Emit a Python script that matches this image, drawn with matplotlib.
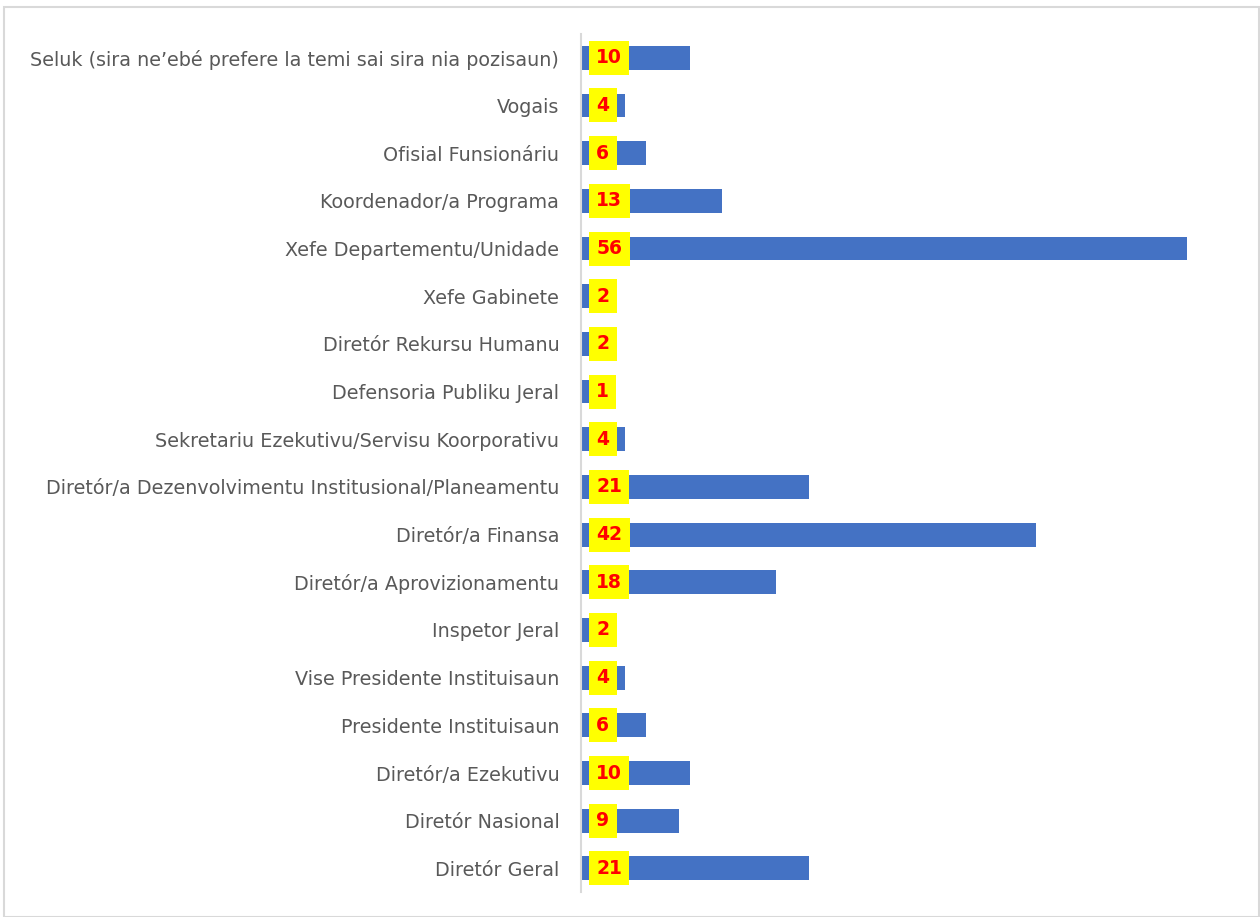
import matplotlib
matplotlib.use("Agg")
from matplotlib import pyplot as plt
from matplotlib.patches import Rectangle

categories = [
    "Diretór Geral",
    "Diretór Nasional",
    "Diretór/a Ezekutivu",
    "Presidente Instituisaun",
    "Vise Presidente Instituisaun",
    "Inspetor Jeral",
    "Diretór/a Aprovizionamentu",
    "Diretór/a Finansa",
    "Diretór/a Dezenvolvimentu Institusional/Planeamentu",
    "Sekretariu Ezekutivu/Servisu Koorporativu",
    "Defensoria Publiku Jeral",
    "Diretór Rekursu Humanu",
    "Xefe Gabinete",
    "Xefe Departementu/Unidade",
    "Koordenador/a Programa",
    "Ofisial Funsionáriu",
    "Vogais",
    "Seluk (sira ne\u2019ebé prefere la temi sai sira nia pozisaun)",
]
counts = [21, 9, 10, 6, 4, 2, 18, 42, 21, 4, 1, 2, 2, 56, 13, 6, 4, 10]

fig = plt.figure(figsize=(12.6, 9.17), dpi=100)
ax = fig.add_axes([0.4615, 0.027, 0.515, 0.936])

ypos = range(len(categories))
ax.barh(ypos, counts, height=0.5, color="#4472C4", zorder=2)

for y, v in zip(ypos, counts):
    ax.annotate(str(v), xy=(0, y), xytext=(10.5, 0), textcoords="offset points",
                ha="left", va="center", fontsize=13.5, fontweight="bold",
                color="#FF0000", zorder=3,
                bbox=dict(boxstyle="square,pad=0.4", fc="#FFFF00", ec="none"))

ax.set_yticks(list(ypos))
ax.set_yticklabels(categories, fontsize=13.8, color="#595959")
ax.tick_params(axis="y", length=0, pad=16)
ax.set_xticks([])
ax.set_xlim(0, 60)
ax.set_ylim(-0.5, len(categories) - 0.5)

for side in ["top", "right", "bottom"]:
    ax.spines[side].set_visible(False)
ax.spines["left"].set_color("#D9D9D9")
ax.spines["left"].set_linewidth(1.5)

# light frame around the whole chart
fig.patches.append(Rectangle((0.003, 0.0), 0.996, 0.992, transform=fig.transFigure,
                             fill=False, ec="#D9D9D9", lw=1.5))

plt.savefig("out.png", dpi=100)
